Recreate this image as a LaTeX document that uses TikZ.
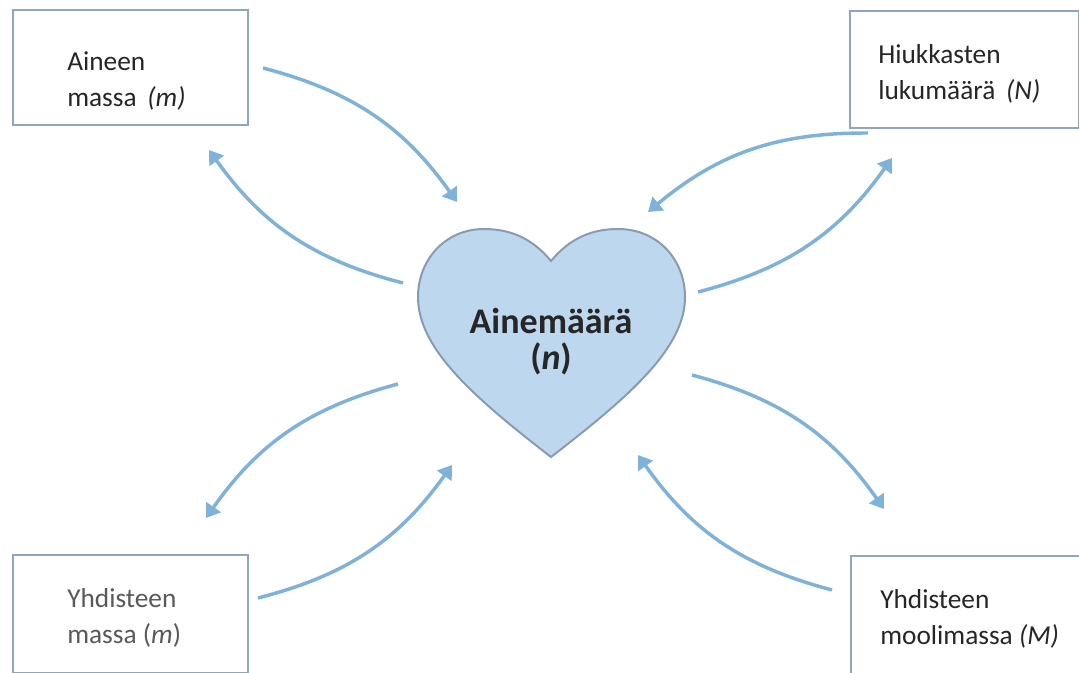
\documentclass[tikz,border=0pt]{standalone}
\usepackage{fontspec}
\setmainfont{Carlito}
\usetikzlibrary{arrows.meta}
\definecolor{arrowblue}{HTML}{7FB2D8}
\definecolor{heartfill}{HTML}{BDD7EE}
\definecolor{heartline}{HTML}{8A9BB0}
\definecolor{boxline}{HTML}{8EA6BE}
\definecolor{txtdark}{HTML}{262626}
\definecolor{txtgray}{HTML}{595959}
\tikzset{
  boxnode/.style={draw=boxline, line width=1.5pt, fill=white, inner sep=0pt},
  lbl/.style={anchor=base west, inner sep=0pt, text=txtdark,
    font=\fontsize{20.5}{27}\selectfont},
  flow/.style={draw=arrowblue, line width=2.6pt,
    -{Triangle[width=13pt,length=10pt]}},
}
\begin{document}
\begin{tikzpicture}[x=0.75pt,y=-0.75pt]
\useasboundingbox (0,0) rectangle (1079,672);
% boxes (sizes in pt = px * 0.75)
\node[boxnode, minimum width=176.25pt, minimum height=86.25pt, anchor=north west] (tl) at (12,9) {};
\node[boxnode, minimum width=171.75pt, minimum height=87.75pt, anchor=north west] (tr) at (849,10) {};
\node[boxnode, minimum width=176.25pt, minimum height=88.5pt, anchor=north west] (bl) at (12,554) {};
\node[boxnode, minimum width=174pt, minimum height=93.75pt, anchor=north west] (br) at (850,555) {};
% labels
\node[lbl] (tltext) at (67,70) {\begin{tabular}[t]{@{}l@{}}Aineen\\massa \textit{\,(m)}\end{tabular}};
\node[lbl] (trtext) at (878,63) {\begin{tabular}[t]{@{}l@{}}Hiukkasten\\lukumäärä \textit{\,(N)}\end{tabular}};
\node[lbl, text=txtgray] (bltext) at (67,607) {\begin{tabular}[t]{@{}l@{}}Yhdisteen\\massa (\textit{m})\end{tabular}};
\node[lbl] (brtext) at (880,608) {\begin{tabular}[t]{@{}l@{}}Yhdisteen\\moolimassa \textit{(M)}\end{tabular}};
% heart
\draw[fill=heartfill, draw=heartline, line width=1.5pt]
  (551,261) .. controls (532,238) and (510,229) .. (484,229)
  .. controls (445,229) and (418,260) .. (418,297)
  .. controls (418,348) and (472,396) .. (551,457)
  .. controls (630,396) and (685,348) .. (685,297)
  .. controls (685,260) and (658,229) .. (618,229)
  .. controls (592,229) and (570,238) .. (551,261) -- cycle;
\node[anchor=base, inner sep=0pt, text=txtdark, font=\bfseries\fontsize{27}{25}\selectfont] (n) at (551,333)
  {\begin{tabular}[t]{@{}c@{}}Ainemäärä\\(\textit{n})\end{tabular}};
% arrow end points
\coordinate (a1s) at (263,68);  \coordinate (a1e) at (457,202);
\coordinate (a2s) at (403,283); \coordinate (a2e) at (209,150);
\coordinate (b1s) at (868,133); \coordinate (b1e) at (648,212);
\coordinate (b2s) at (698,292); \coordinate (b2e) at (892,158);
\coordinate (c1s) at (398,384); \coordinate (c1e) at (206,518);
\coordinate (c2s) at (258,598); \coordinate (c2e) at (452,465);
\coordinate (d1s) at (692,375); \coordinate (d1e) at (884,509);
\coordinate (d2s) at (832,590); \coordinate (d2e) at (638,455);
% arrows
\draw[flow] (a1s) to[bend left=20] (a1e);
\draw[flow] (a2s) to[bend left=20] (a2e);
\draw[flow] (b1s) to[bend right=20] (b1e);
\draw[flow] (b2s) to[bend right=20] (b2e);
\draw[flow] (c1s) to[bend right=20] (c1e);
\draw[flow] (c2s) to[bend right=20] (c2e);
\draw[flow] (d1s) to[bend left=20] (d1e);
\draw[flow] (d2s) to[bend left=20] (d2e);
\end{tikzpicture}
\end{document}
